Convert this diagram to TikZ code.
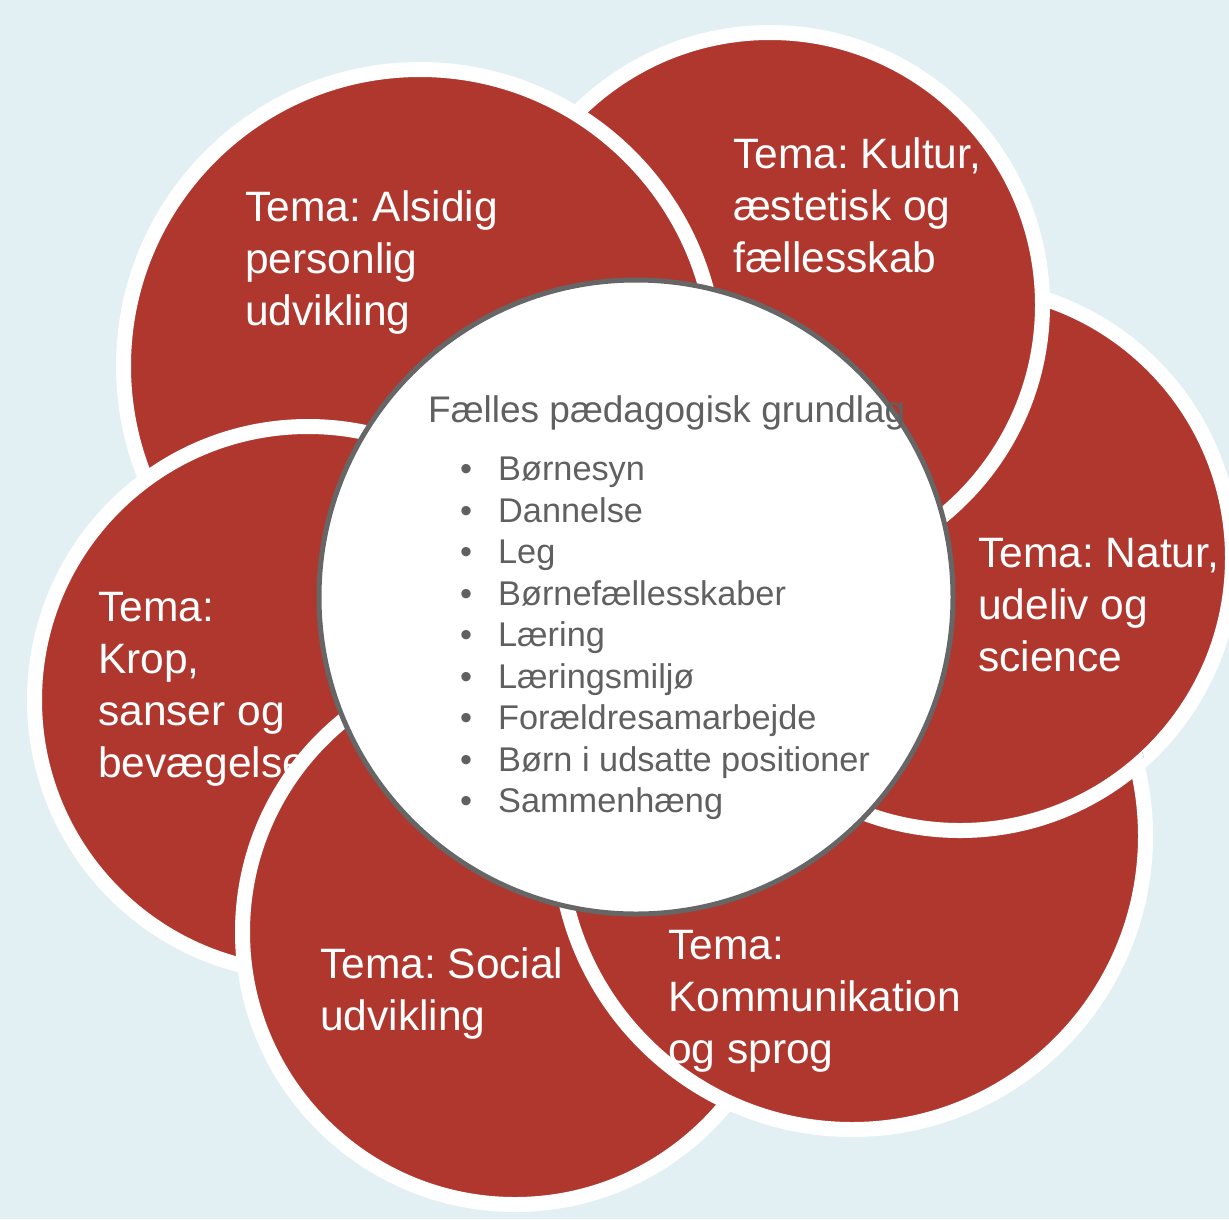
\documentclass[tikz,border=0pt]{standalone}
\usepackage{fontspec}
\setmainfont{Liberation Sans}
\frenchspacing
\definecolor{bg}{HTML}{E2EFF3}
\definecolor{petalred}{HTML}{B0372E}
\definecolor{rimgray}{HTML}{666666}
\definecolor{txtgray}{HTML}{606060}
\begin{document}
\begin{tikzpicture}[x=1pt,y=-1pt,
  petal/.style={fill=petalred,draw=white,line width=15pt},
  tema/.style={anchor=north west,inner sep=0pt,align=left,text=white,font=\fontsize{42.5}{52}\selectfont},
  coretext/.style={anchor=north west,inner sep=0pt,align=left,text=txtgray}]
\fill[bg] (0,0) rectangle (1229,1219);
\useasboundingbox (0,0) rectangle (1229,1219);
% petals (cyclic overlap)
\path[petal] (960,558) circle[radius=272.5pt];   % Natur
\path[petal] (770,305) circle[radius=272.5pt];   % Kultur
\path[petal] (420,366) circle[radius=296.5pt];   % Alsidig
\path[petal] (308,700) circle[radius=273.5pt];   % Krop
\path[petal] (515,932) circle[radius=272.5pt];   % Social
\path[petal] (852,836) circle[radius=293.5pt];   % Kommunikation
\begin{scope}
  \clip (852,836) circle[radius=302pt];
  \path[petal] (960,558) circle[radius=272.5pt]; % Natur over Kommunikation
\end{scope}
% centre
\path[fill=white,draw=rimgray,line width=5pt] (636,597) circle[radius=317pt];
% labels
\node[tema] (alsidig) at (245,190) {Tema: Alsidig\\personlig\\udvikling};
\node[tema] (kultur) at (733,137) {Tema: Kultur,\\æstetisk og\\fællesskab};
\node[tema] (natur) at (978,538) {Tema: Natur,\\udeliv og\\science};
\node[tema] (krop) at (98,592) {Tema:\\Krop,\\sanser og\\bevægelse};
\node[tema] (social) at (320,947) {Tema: Social\\udvikling};
\node[tema] (komm) at (668,930) {Tema:\\Kommunikation\\og sprog};
\node[coretext,font=\fontsize{37}{44}\selectfont] (title) at (428,395) {Fælles pædagogisk grundlag};
\node[coretext,font=\fontsize{34.3}{41.5}\selectfont] (list) at (460,457)
  {\makebox[38pt][l]{•}Børnesyn\\
   \makebox[38pt][l]{•}Dannelse\\
   \makebox[38pt][l]{•}Leg\\
   \makebox[38pt][l]{•}Børnefællesskaber\\
   \makebox[38pt][l]{•}Læring\\
   \makebox[38pt][l]{•}Læringsmiljø\\
   \makebox[38pt][l]{•}Forældresamarbejde\\
   \makebox[38pt][l]{•}Børn i udsatte positioner\\
   \makebox[38pt][l]{•}Sammenhæng};
\end{tikzpicture}
\end{document}
